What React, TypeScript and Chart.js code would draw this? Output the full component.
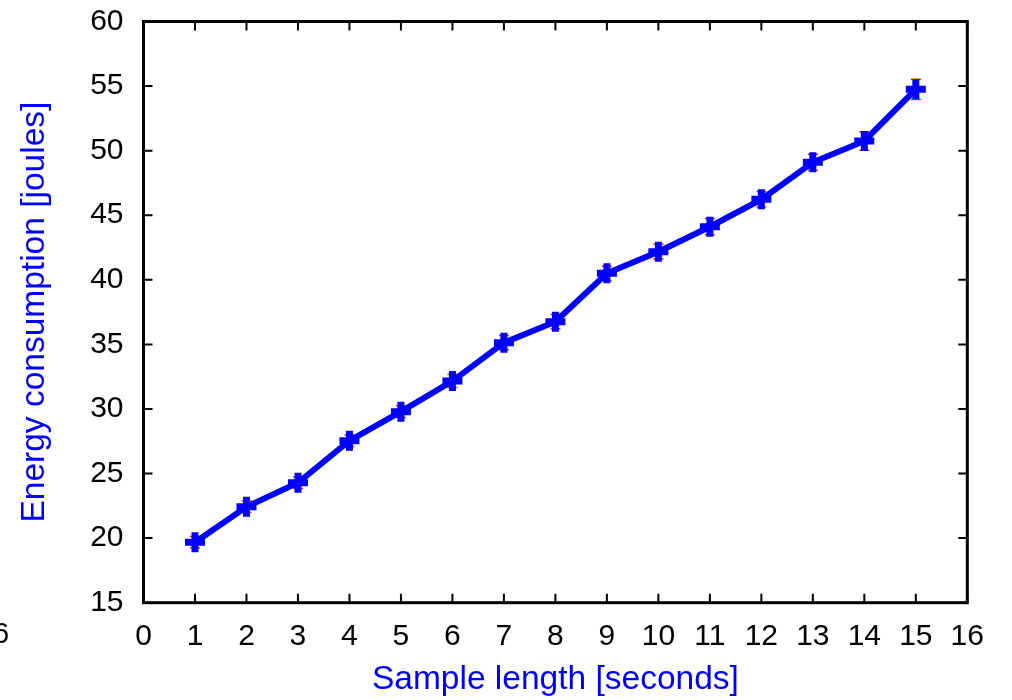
import React, { useEffect, useRef } from "react";
import { Chart, registerables } from "chart.js";

Chart.register(...registerables);

const sampleLengths = [1, 2, 3, 4, 5, 6, 7, 8, 9, 10, 11, 12, 13, 14, 15];
const energyJoules = [19.68, 22.43, 24.29, 27.54, 29.79, 32.16, 35.13, 36.76, 40.5, 42.18, 44.11, 46.23, 49.1, 50.75, 54.75];
const energyError = [0.45, 0.45, 0.45, 0.45, 0.45, 0.5, 0.55, 0.55, 0.55, 0.57, 0.63, 0.6, 0.62, 0.72, 0.78];
const xTickValues = [0, 1, 2, 3, 4, 5, 6, 7, 8, 9, 10, 11, 12, 13, 14, 15, 16];
const yTickValues = [15, 20, 25, 30, 35, 40, 45, 50, 55, 60];

const FONT = "'Liberation Sans', Arial, Helvetica, sans-serif";

const errorBarPlugin = {
  id: "errorBars",
  beforeDatasetsDraw(chart: any) {
    const xs = chart.scales.x;
    const ys = chart.scales.y;
    const ctx = chart.ctx;
    ctx.save();
    ctx.strokeStyle = "#ff2020";
    ctx.lineWidth = 1.5;
    sampleLengths.forEach((x, i) => {
      const px = xs.getPixelForValue(x);
      const top = ys.getPixelForValue(energyJoules[i] + energyError[i]);
      const bot = ys.getPixelForValue(energyJoules[i] - energyError[i]);
      ctx.beginPath();
      ctx.moveTo(px, top);
      ctx.lineTo(px, bot);
      ctx.moveTo(px - 5, top);
      ctx.lineTo(px + 5, top);
      ctx.moveTo(px - 5, bot);
      ctx.lineTo(px + 5, bot);
      ctx.stroke();
    });
    ctx.restore();
  },
};

const framePlugin = {
  id: "frame",
  afterDraw(chart: any) {
    const { left, right, top, bottom } = chart.chartArea;
    const xs = chart.scales.x;
    const ys = chart.scales.y;
    const ctx = chart.ctx;
    ctx.save();
    ctx.strokeStyle = "#000";
    ctx.lineWidth = 2;
    const tl = 9;
    ctx.beginPath();
    xTickValues.forEach((v) => {
      const px = xs.getPixelForValue(v);
      ctx.moveTo(px, bottom);
      ctx.lineTo(px, bottom - tl);
      ctx.moveTo(px, top);
      ctx.lineTo(px, top + tl);
    });
    yTickValues.forEach((v) => {
      const py = ys.getPixelForValue(v);
      ctx.moveTo(left, py);
      ctx.lineTo(left + tl, py);
      ctx.moveTo(right, py);
      ctx.lineTo(right - tl, py);
    });
    ctx.stroke();
    ctx.lineWidth = 3;
    ctx.strokeRect(left, top, right - left, bottom - top);
    ctx.restore();
  },
};

export default function App() {
  const canvasRef = useRef<HTMLCanvasElement | null>(null);

  useEffect(() => {
    document.body.style.margin = "0";
    const canvas = canvasRef.current;
    if (!canvas) return;
    Chart.defaults.font.family = FONT;
    const chart = new Chart(canvas, {
      type: "line",
      data: {
        datasets: [
          {
            data: sampleLengths.map((x, i) => ({ x, y: energyJoules[i] })),
            borderColor: "#0000ff",
            backgroundColor: "#0000ff",
            borderWidth: 6,
            pointStyle: "cross",
            pointRadius: 10,
            pointBorderWidth: 7,
            pointBorderColor: "#0000ff",
            tension: 0,
            fill: false,
          },
        ],
      },
      options: {
        animation: false,
        responsive: true,
        maintainAspectRatio: false,
        layout: { padding: { left: 0, top: 21.5, right: 44.7, bottom: 0 } },
        plugins: { legend: { display: false }, tooltip: { enabled: false } },
        scales: {
          x: {
            type: "linear",
            min: 0,
            max: 16,
            afterBuildTicks: (scale: any) => {
              scale.ticks = xTickValues.map((v) => ({ value: v }));
            },
            afterFit: (scale: any) => {
              scale.height = 97.3;
              scale.paddingLeft = 0;
              scale.paddingRight = 0;
            },
            grid: { display: false },
            border: { display: false },
            ticks: {
              font: { size: 30, family: FONT },
              color: "#000",
              padding: 8,
              maxRotation: 0,
              autoSkip: false,
            },
            title: {
              display: true,
              text: "Sample length [seconds]",
              color: "#0000ff",
              font: { size: 33.5, family: FONT },
              padding: { top: 0, bottom: 0 },
            },
          },
          y: {
            type: "linear",
            min: 15,
            max: 60,
            afterBuildTicks: (scale: any) => {
              scale.ticks = yTickValues.map((v) => ({ value: v }));
            },
            afterFit: (scale: any) => {
              scale.width = 143.5;
              scale.paddingTop = 0;
              scale.paddingBottom = 0;
            },
            grid: { display: false },
            border: { display: false },
            ticks: {
              font: { size: 30, family: FONT },
              color: "#000",
              padding: 12,
              autoSkip: false,
            },
            title: {
              display: true,
              text: "Energy consumption [joules]",
              color: "#0000ff",
              font: { size: 33.5, family: FONT },
              padding: { top: 15, bottom: 0 },
            },
          },
        },
      },
      plugins: [errorBarPlugin, framePlugin],
    } as any);
    return () => chart.destroy();
  }, []);

  return (
    <div style={{ position: "absolute", left: 0, top: 0, width: 1012, height: 700, overflow: "hidden", background: "#fff" }}>
      <canvas ref={canvasRef} />
      <span
        style={{
          position: "absolute",
          left: -7,
          top: 619,
          fontFamily: FONT,
          fontSize: 29,
          lineHeight: 1,
          color: "#000",
        }}
      >
        6
      </span>
    </div>
  );
}
